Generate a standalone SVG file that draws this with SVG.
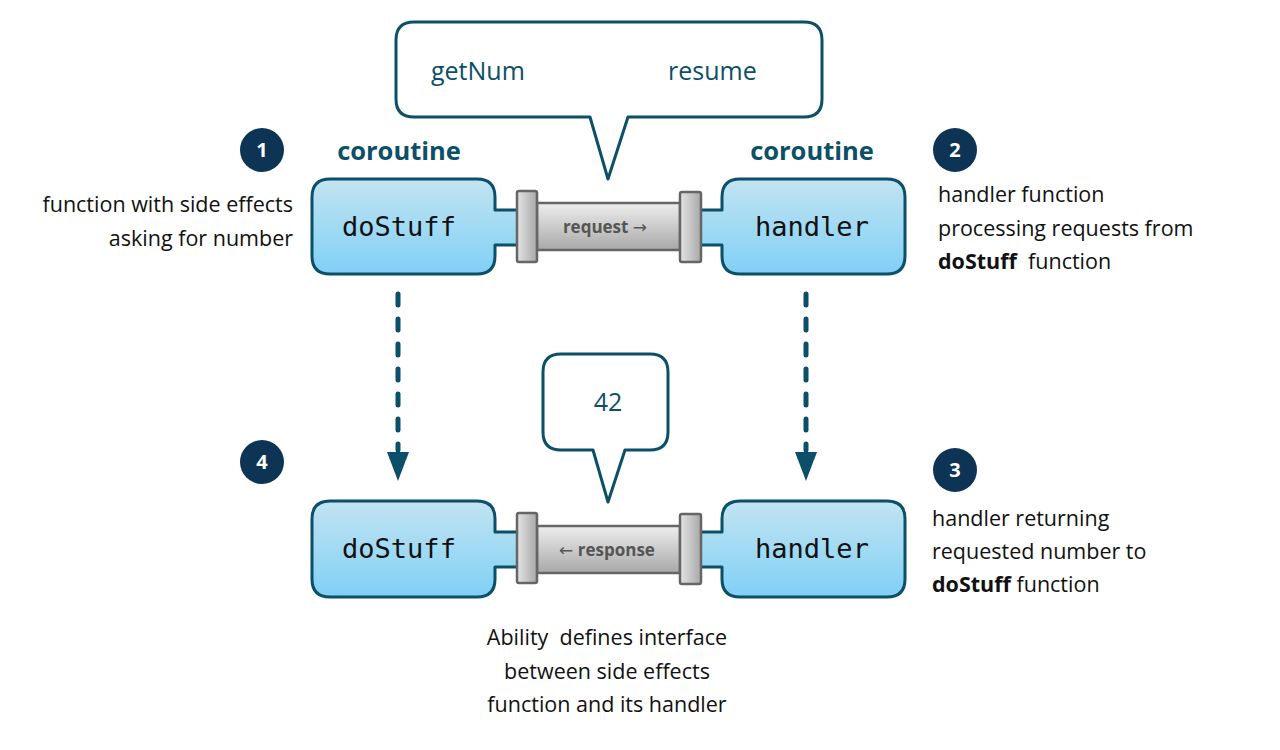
<svg xmlns="http://www.w3.org/2000/svg" width="1280" height="750" viewBox="0 0 1280 750">
<style>
.box{fill:url(#blue);stroke:#0b4f68;stroke-width:3;stroke-linejoin:round}
.mono{font-family:"DejaVu Sans Mono",monospace;font-size:27px;fill:#111;text-anchor:middle}
.coro{font-family:"Open Sans",sans-serif;font-weight:bold;font-size:25.5px;fill:#0b4f68;text-anchor:middle}
.tube{fill:url(#gray);stroke:#666;stroke-width:2.5}
.cap{fill:url(#grayh);stroke:#666;stroke-width:2.5}
.pl{font-family:"Open Sans",sans-serif;font-weight:bold;font-size:17px;fill:#555;text-anchor:middle}
.ar{font-family:"DejaVu Sans",sans-serif;font-size:17px;font-weight:normal}
.bubble{fill:#fff;stroke:#0b4f68;stroke-width:3;stroke-linejoin:round}
.bt{font-family:"Open Sans",sans-serif;font-size:25px;fill:#0b4f68}
.badge{fill:#0d3355}
.bn{font-family:"Open Sans",sans-serif;font-weight:bold;font-size:20px;fill:#fff;text-anchor:middle}
.txt{font-family:"Open Sans",sans-serif;font-size:21.5px;fill:#111;white-space:pre}
.arrow{stroke:#0b4f68;stroke-width:5;stroke-dasharray:11 14;stroke-linecap:round;fill:none}
</style>
<defs>
<linearGradient id="blue" x1="0" y1="0" x2="0" y2="1">
<stop offset="0" stop-color="#c2e4f1"/>
<stop offset="1" stop-color="#80d0f6"/>
</linearGradient>
<linearGradient id="gray" x1="0" y1="0" x2="0" y2="1">
<stop offset="0" stop-color="#eeeeee"/>
<stop offset="1" stop-color="#a8a8a8"/>
</linearGradient>
<linearGradient id="grayh" x1="0" y1="0" x2="1" y2="0">
<stop offset="0" stop-color="#e4e4e4"/>
<stop offset="1" stop-color="#a8a8a8"/>
</linearGradient>
</defs>

<g id="bubble-top">
<path class="bubble" d="M414 22 H804 Q822 22 822 40 V99 Q822 117 804 117 H628 L608 179 L590 117 H414 Q396 117 396 99 V40 Q396 22 414 22 Z"/>
<text class="bt" x="431" y="80">getNum</text>
<text class="bt" x="668" y="80">resume</text>
</g>

<g id="bubble-bottom">
<path class="bubble" d="M561 354 H650 Q668 354 668 372 V432 Q668 450 650 450 H625 L608 502 L593 450 H561 Q543 450 543 432 V372 Q543 354 561 354 Z"/>
<text class="bt" x="608" y="411" text-anchor="middle">42</text>
</g>

<g id="connectors">
<line class="arrow" x1="398" y1="294" x2="398" y2="450"/>
<polygon points="387,452 409,452 398,481" fill="#0b4f68"/>
<line class="arrow" x1="806" y1="294" x2="806" y2="450"/>
<polygon points="795,452 817,452 806,481" fill="#0b4f68"/>
</g>

<g id="doStuff-top">
<text class="coro" x="399" y="160">coroutine</text>
<path class="box" d="M330 179 H477 Q495 179 495 197 V210 H522 V245 H495 V256 Q495 274 477 274 H330 Q312 274 312 256 V197 Q312 179 330 179 Z"/>
<text class="mono" x="399" y="236">doStuff</text>
</g>

<g id="handler-top">
<text class="coro" x="812" y="160">coroutine</text>
<path class="box" d="M740 179 H887 Q905 179 905 197 V256 Q905 274 887 274 H740 Q722 274 722 256 V245 H697 V210 H722 V197 Q722 179 740 179 Z"/>
<text class="mono" x="812" y="236">handler</text>
</g>

<g id="pipe-request">
<rect class="tube" x="537" y="203" width="143" height="47"/>
<rect class="cap" x="517" y="191" width="20" height="71" rx="2"/>
<rect class="cap" x="680" y="192" width="21" height="70" rx="2"/>
<text class="pl" x="605" y="233">request <tspan class="ar">→</tspan></text>
</g>

<g id="doStuff-bottom">
<path class="box" d="M330 501 H477 Q495 501 495 519 V532 H522 V567 H495 V579 Q495 597 477 597 H330 Q312 597 312 579 V519 Q312 501 330 501 Z"/>
<text class="mono" x="399" y="558">doStuff</text>
</g>

<g id="handler-bottom">
<path class="box" d="M740 501 H887 Q905 501 905 519 V579 Q905 597 887 597 H740 Q722 597 722 579 V567 H697 V532 H722 V519 Q722 501 740 501 Z"/>
<text class="mono" x="812" y="558">handler</text>
</g>

<g id="pipe-response">
<rect class="tube" x="537" y="526" width="143" height="47"/>
<rect class="cap" x="517" y="513" width="20" height="70" rx="2"/>
<rect class="cap" x="680" y="514" width="21" height="70" rx="2"/>
<text class="pl" x="607" y="556"><tspan class="ar">←</tspan> response</text>
</g>

<g id="badge-1">
<circle class="badge" cx="262" cy="150" r="22"/>
<text class="bn" x="262" y="157">1</text>
</g>
<g id="badge-2">
<circle class="badge" cx="955" cy="150" r="22"/>
<text class="bn" x="955" y="157">2</text>
</g>
<g id="badge-3">
<circle class="badge" cx="955" cy="470" r="22"/>
<text class="bn" x="955" y="477">3</text>
</g>
<g id="badge-4">
<circle class="badge" cx="262" cy="462" r="22"/>
<text class="bn" x="262" y="469">4</text>
</g>

<g id="note-1">
<text class="txt" x="293" y="212" text-anchor="end">function with side effects</text>
<text class="txt" x="293" y="246" text-anchor="end">asking for number</text>
</g>
<g id="note-2">
<text class="txt" x="938" y="202">handler function</text>
<text class="txt" x="938" y="236">processing requests from</text>
<text class="txt" x="938" y="269"><tspan font-weight="bold">doStuff</tspan>  function</text>
</g>
<g id="note-3">
<text class="txt" x="932" y="526">handler returning</text>
<text class="txt" x="932" y="559">requested number to</text>
<text class="txt" x="932" y="592"><tspan font-weight="bold">doStuff</tspan> function</text>
</g>
<g id="note-ability">
<text class="txt" x="607" y="645" text-anchor="middle">Ability  defines interface</text>
<text class="txt" x="607" y="679" text-anchor="middle">between side effects</text>
<text class="txt" x="607" y="712" text-anchor="middle">function and its handler</text>
</g>
</svg>
